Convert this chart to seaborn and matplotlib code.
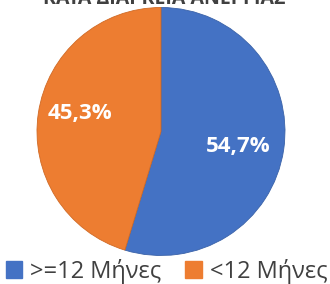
import matplotlib
matplotlib.use("Agg")
import matplotlib.pyplot as plt
import seaborn as sns
import numpy as np
from matplotlib.patches import Patch

categories = [">=12 Μήνες", "<12 Μήνες"]
values = [54.7, 45.3]
labels_txt = ["54,7%", "45,3%"]
title = "ΚΑΤΑ ΔΙΑΡΚΕΙΑ ΑΝΕΡΓΙΑΣ"

sns.set_theme(style="white")
plt.rcParams['font.family'] = ['Open Sans', 'DejaVu Sans']
colors = ["#4472C4", "#ED7D31"]

fig = plt.figure(figsize=(3.3, 2.84), dpi=100)
ax = fig.add_axes([0.1121, 0.1004, 0.7515, 0.8732])
wedges, _ = ax.pie(values, colors=colors, startangle=90, counterclock=False,
                   radius=1, wedgeprops=dict(linewidth=0.6, edgecolor="#3a62a8"))
wedges[1].set_edgecolor("#d06a25")
offsets = [(0.63, -0.03), (0.66, 0.05)]
for w, t, (d, dy) in zip(wedges, labels_txt, offsets):
    ang = np.deg2rad((w.theta1 + w.theta2) / 2)
    ax.text(d * np.cos(ang), d * np.sin(ang) + dy, t, ha="center", va="center",
            color="white", fontsize=16, fontweight="bold")
ax.set_xlim(-1, 1)
ax.set_ylim(-1, 1)
ax.axis("off")

fig.text(0.497, 1.003, title, ha="center", va="center", fontsize=14,
         fontweight="bold", color="#404040")

handles = [Patch(facecolor=c, edgecolor=c) for c in colors]
fig.legend(handles, categories, loc="center", bbox_to_anchor=(0.505, 0.045),
           ncol=2, frameon=False, fontsize=17, handlelength=0.7, handleheight=0.7,
           handletextpad=0.35, columnspacing=1.0, labelcolor="#404040")

fig.savefig("out.png", dpi=100)
